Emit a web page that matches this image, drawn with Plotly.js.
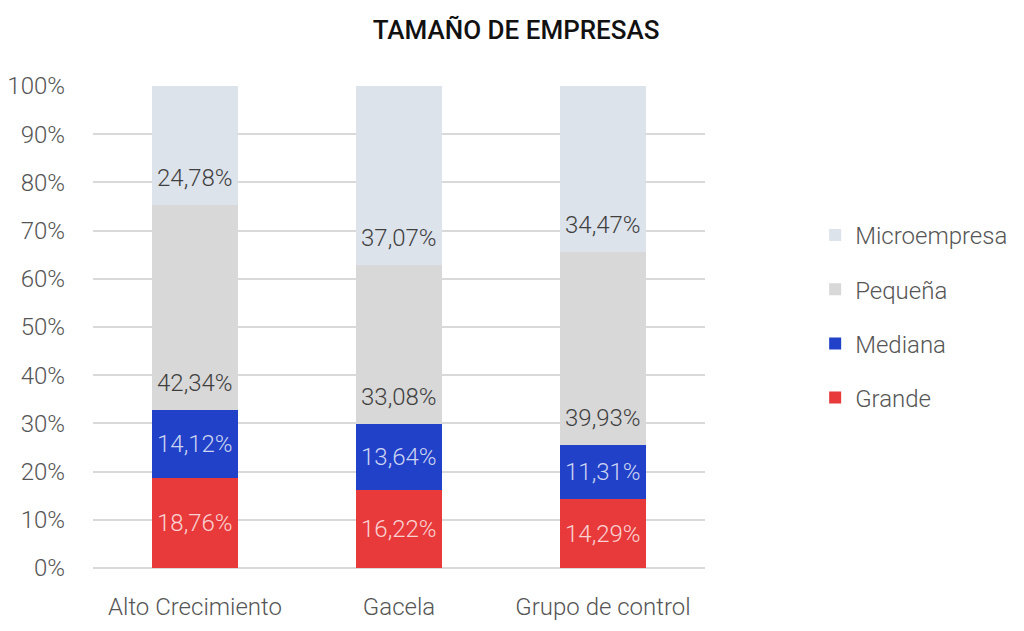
<!DOCTYPE html>
<html>
<head>
<meta charset="utf-8">
<script src="https://cdn.plot.ly/plotly-3.0.1.min.js"></script>
<style>html,body{margin:0;padding:0;background:#fff;}#chart{width:1024px;height:631px;}</style>
</head>
<body>
<div id="chart"></div>
<script>
const categories = ["Alto Crecimiento", "Gacela", "Grupo de control"];
const grande = [18.76, 16.22, 14.29];
const mediana = [14.12, 13.64, 11.31];
const pequena = [42.34, 33.08, 39.93];
const micro = [24.78, 37.07, 34.47];
const seriesNames = ["Grande", "Mediana", "Pequeña", "Microempresa"];
const yTicks = [0, 10, 20, 30, 40, 50, 60, 70, 80, 90, 100];

const FONT = "Roboto, 'DejaVu Sans', sans-serif";
const colors = ["#e8393b", "#2041c8", "#d8d8d8", "#dde3eb"];
const labelColors = ["rgba(255,255,255,0.78)", "rgba(255,255,255,0.78)", "#3f3f3f", "#3f3f3f"];
const series = [grande, mediana, pequena, micro];

const traces = series.map((vals, i) => ({
  type: "bar",
  name: seriesNames[i],
  x: categories,
  y: vals,
  marker: {color: colors[i]},
  legendgroup: "g" + i,
  legendrank: 10 - i,
  hoverinfo: "none"
}));

function fmt(v) { return v.toFixed(2).replace(".", ",") + "%"; }

const annotations = [];
categories.forEach((c, ci) => {
  let base = 0;
  series.forEach((vals, si) => {
    const v = vals[ci];
    const mid = si < 2;
    annotations.push({
      x: c, y: mid ? base + v / 2 : base, xref: "x", yref: "y",
      yshift: mid ? 0 : 27,
      text: fmt(v), showarrow: false,
      font: {family: FONT, size: 24, weight: 300, color: labelColors[si]}
    });
    base += v;
  });
});

const layout = {
  width: 1024, height: 631,
  margin: {l: 93, r: 319, t: 86, b: 63, autoexpand: false},
  paper_bgcolor: "#ffffff", plot_bgcolor: "#ffffff",
  barmode: "stack", bargap: 0.58,
  title: {text: "TAMAÑO DE EMPRESAS", x: 0.504, xanchor: "center", y: 0.952, yanchor: "middle",
          font: {family: FONT, size: 26, weight: 500, color: "#111111"}},
  font: {family: FONT, size: 24, color: "#555555", weight: 300},
  xaxis: {tickfont: {family: FONT, size: 24, color: "#555555", weight: 300}, showline: false, ticks: "", showgrid: false,
          ticklabelstandoff: 22, automargin: false},
  yaxis: {range: [0, 100], tickvals: yTicks, ticktext: yTicks.map(t => t + "%"),
          tickfont: {family: FONT, size: 24, color: "#555555", weight: 300},
          showgrid: true, gridcolor: "#d9d9d9", gridwidth: 2, zeroline: true, zerolinecolor: "#d9d9d9", zerolinewidth: 2,
          ticks: "", ticklabelstandoff: 27, showline: false, automargin: false},
  legend: {x: 1.18, xanchor: "left", y: 0.522, yanchor: "middle", traceorder: "grouped", tracegroupgap: 20,
           font: {family: FONT, size: 24, color: "#555555", weight: 300}, itemwidth: 30},
  annotations: annotations,
  showlegend: true
};

Plotly.newPlot("chart", traces, layout, {displayModeBar: false, staticPlot: true});
</script>
</body>
</html>
